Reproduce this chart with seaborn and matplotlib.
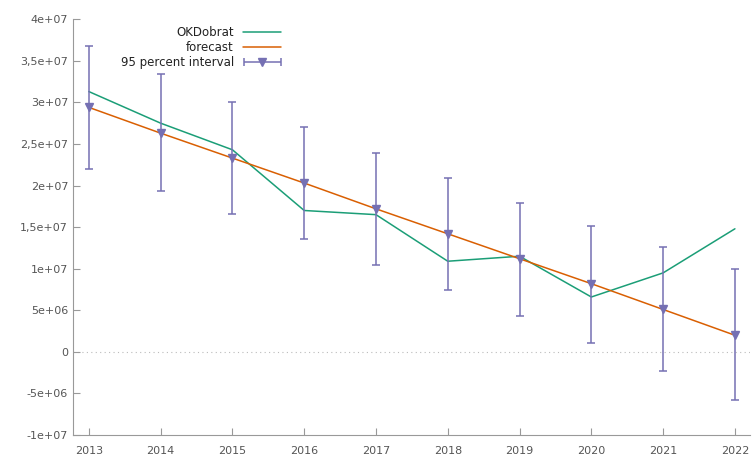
import numpy as np
import pandas as pd
import matplotlib
matplotlib.use("Agg")
import matplotlib.pyplot as plt
import seaborn as sns
from matplotlib.legend_handler import HandlerErrorbar

years = [2013, 2014, 2015, 2016, 2017, 2018, 2019, 2020, 2021, 2022]
okdobrat = [31.3e6, 27.5e6, 24.3e6, 17.0e6, 16.5e6, 10.9e6, 11.5e6, 6.6e6, 9.5e6, 14.8e6]
forecast = [29.4e6, 26.3e6, 23.3e6, 20.3e6, 17.2e6, 14.2e6, 11.2e6, 8.2e6, 5.1e6, 2.0e6]
ci_low = [22.0e6, 19.3e6, 16.6e6, 13.6e6, 10.4e6, 7.4e6, 4.3e6, 1.1e6, -2.3e6, -5.8e6]
ci_high = [36.8e6, 33.4e6, 30.1e6, 27.0e6, 23.9e6, 20.9e6, 17.9e6, 15.1e6, 12.6e6, 10.0e6]

ytick_vals = [-1e7, -5e6, 0, 5e6, 1e7, 1.5e7, 2e7, 2.5e7, 3e7, 3.5e7, 4e7]
ytick_labels = ["-1e+07", "-5e+06", "0", "5e+06", "1e+07", "1,5e+07", "2e+07",
                "2,5e+07", "3e+07", "3,5e+07", "4e+07"]

green, orange, purple = "#1b9e77", "#d95f02", "#7570b3"

sns.set_style("ticks")
plt.rcParams['font.family'] = ['DejaVu Sans']

df = pd.DataFrame({"year": years, "OKDobrat": okdobrat, "forecast": forecast})

fig = plt.figure(figsize=(7.53, 4.57), dpi=100)
ax = fig.add_axes([0.097, 0.048, 0.899, 0.910])

ax.axhline(0, color="#bbbbbb", lw=0.8, ls=(0, (1, 3)), zorder=0)

sns.lineplot(data=df, x="year", y="OKDobrat", color=green, lw=1.1, ax=ax, label="OKDobrat")
sns.lineplot(data=df, x="year", y="forecast", color=orange, lw=1.1, ax=ax, label="forecast")

mid = np.array(forecast)
err = [mid - np.array(ci_low), np.array(ci_high) - mid]
ax.errorbar(years, forecast, yerr=err, fmt="v", color=purple, ms=6, lw=1.1,
            capsize=3, capthick=1.1)

# legend entry drawn like gnuplot: horizontal bar with caps and a triangle
dummy = ax.errorbar([np.nan], [np.nan], xerr=[1.0], fmt="v", color=purple, ms=6,
                    lw=1.1, capsize=3, capthick=1.1, label="95 percent interval")

ax.set_xlim(2012.78, 2022.21)
ax.set_ylim(-1e7, 4e7)
ax.set_xticks(years)
ax.set_xticklabels([str(y) for y in years])
ax.set_yticks(ytick_vals)
ax.set_yticklabels(ytick_labels)
ax.set_xlabel("")
ax.set_ylabel("")
ax.tick_params(direction="in", length=5, width=0.8, colors="#999999",
               labelcolor="#555555", labelsize=8)
ax.tick_params(axis="x", pad=8)
for s in ["top", "right"]:
    ax.spines[s].set_visible(False)
for s in ["left", "bottom"]:
    ax.spines[s].set_color("#999999")
    ax.spines[s].set_linewidth(0.8)

leg = ax.legend(loc="upper left", bbox_to_anchor=(0.06, 1.0), frameon=False,
                markerfirst=False, fontsize=8.5, handlelength=3.2,
                labelspacing=0.15, borderaxespad=0.2,
                handler_map={type(dummy): HandlerErrorbar(xerr_size=1.55)})
for t in leg.get_texts():
    t.set_ha("right")
    t.set_color("#222222")

fig.savefig("out.png", dpi=100)
